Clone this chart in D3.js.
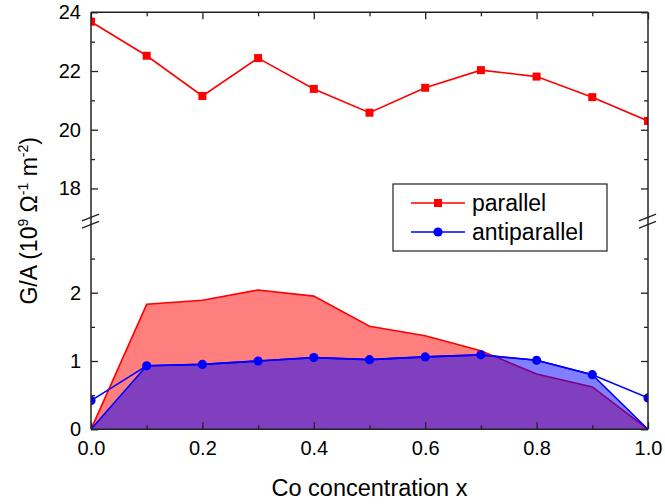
<!DOCTYPE html>
<html>
<head>
<meta charset="utf-8">
<script src="https://cdn.jsdelivr.net/npm/d3@7"></script>
<style>
  html, body { margin: 0; padding: 0; background: #fff; }
  svg { display: block; font-family: Arial, "Liberation Sans", Helvetica, sans-serif; }
</style>
</head>
<body>
<svg id="chart" width="665" height="504"></svg>
<script>
// ---- data ----
const xValues = [0.0, 0.1, 0.2, 0.3, 0.4, 0.5, 0.6, 0.7, 0.8, 0.9, 1.0];
const parallelHigh = [23.68, 22.52, 21.15, 22.44, 21.39, 20.58, 21.43, 22.03, 21.81, 21.11, 20.30];
const parallelLow = [0, 1.83, 1.89, 2.04, 1.95, 1.51, 1.37, 1.15, 0.81, 0.62, 0];
const antiparallel = [0.42, 0.93, 0.95, 1.00, 1.05, 1.02, 1.06, 1.09, 1.01, 0.80, 0.46];
const antiparallelArea = [0, 0.93, 0.95, 1.00, 1.05, 1.02, 1.06, 1.09, 1.01, 0.80, 0];
const xTicks = [0, 0.2, 0.4, 0.6, 0.8, 1.0];
const xMinorTicks = [0.1, 0.3, 0.5, 0.7, 0.9];
const yUpperTicks = [18, 20, 22, 24];
const yUpperMinor = [19, 21, 23];
const yLowerTicks = [0, 1, 2];
const yLowerMinor = [0.5, 1.5, 2.5];
const legendLabels = ["parallel", "antiparallel"];
const xTitle = "Co concentration x";

// ---- layout ----
const L = 91, R = 648, T = 12.3, B = 429.3;
const svg = d3.select("#chart");
const axisColor = "#222";

const x = d3.scaleLinear().domain([0, 1]).range([L, R]);
const yU = d3.scaleLinear().domain([17, 24]).range([217.8, T]);
const yL = d3.scaleLinear().domain([0, 3]).range([B, 224.4]);

// clip
svg.append("clipPath").attr("id", "clipU").append("rect")
  .attr("x", L).attr("y", T).attr("width", R - L).attr("height", yU(17) - T);
svg.append("clipPath").attr("id", "clipL").append("rect")
  .attr("x", L).attr("y", yL(3)).attr("width", R - L).attr("height", B - yL(3));

const idx = d3.range(xValues.length);

// lower panel
const gL = svg.append("g").attr("clip-path", "url(#clipL)");
gL.append("path").datum(idx)
  .attr("d", d3.area().x(i => x(xValues[i])).y0(yL(0)).y1(i => yL(parallelLow[i])))
  .attr("fill", "rgba(255,0,0,0.5)");
gL.append("path").datum(idx)
  .attr("d", d3.line().x(i => x(xValues[i])).y(i => yL(parallelLow[i])))
  .attr("fill", "none").attr("stroke", "#ff0000").attr("stroke-width", 1.6);

gL.append("path").datum(idx)
  .attr("d", d3.area().x(i => x(xValues[i])).y0(yL(0)).y1(i => yL(antiparallelArea[i])))
  .attr("fill", "rgba(0,0,255,0.5)");
gL.append("path").datum(idx)
  .attr("d", d3.line().x(i => x(xValues[i])).y(i => yL(antiparallelArea[i])))
  .attr("fill", "none").attr("stroke", "#0000ff").attr("stroke-width", 1.6);
gL.append("path").datum(idx)
  .attr("d", d3.line().x(i => x(xValues[i])).y(i => yL(antiparallel[i])))
  .attr("fill", "none").attr("stroke", "#0000ff").attr("stroke-width", 1.6);
gL.selectAll("circle.ap").data(idx).join("circle").attr("class", "ap")
  .attr("cx", i => x(xValues[i])).attr("cy", i => yL(antiparallel[i]))
  .attr("r", 4.6).attr("fill", "#0000ff");

// upper panel
const gU = svg.append("g").attr("clip-path", "url(#clipU)");
gU.append("path").datum(idx)
  .attr("d", d3.line().x(i => x(xValues[i])).y(i => yU(parallelHigh[i])))
  .attr("fill", "none").attr("stroke", "#ff0000").attr("stroke-width", 1.6);
gU.selectAll("rect.p").data(idx).join("rect").attr("class", "p")
  .attr("x", i => x(xValues[i]) - 4).attr("y", i => yU(parallelHigh[i]) - 4)
  .attr("width", 8).attr("height", 8).attr("fill", "#ff0000");

// ---- axes ----
function styleAxis(g) {
  g.select(".domain").remove();
  g.selectAll(".tick line").attr("stroke", axisColor).attr("stroke-width", 1.3);
  g.selectAll(".tick text").attr("fill", "#000").style("font-size", "20px");
}
const f1 = d3.format(".1f");
svg.append("g").attr("transform", `translate(0,${B})`)
  .call(d3.axisBottom(x).tickValues(xTicks).tickSize(-7).tickPadding(12).tickFormat(f1)).call(styleAxis);
svg.append("g").attr("transform", `translate(0,${B})`)
  .call(d3.axisBottom(x).tickValues(xMinorTicks).tickSize(-4).tickFormat("")).call(styleAxis);
svg.append("g").attr("transform", `translate(0,${T})`)
  .call(d3.axisTop(x).tickValues(xTicks).tickSize(-7).tickFormat("")).call(styleAxis);
svg.append("g").attr("transform", `translate(0,${T})`)
  .call(d3.axisTop(x).tickValues(xMinorTicks).tickSize(-4).tickFormat("")).call(styleAxis);
svg.append("g").attr("transform", `translate(${L},0)`)
  .call(d3.axisLeft(yU).tickValues(yUpperTicks).tickSize(-7).tickPadding(10).tickFormat(d3.format("d"))).call(styleAxis);
svg.append("g").attr("transform", `translate(${L},0)`)
  .call(d3.axisLeft(yU).tickValues(yUpperMinor).tickSize(-4).tickFormat("")).call(styleAxis);
svg.append("g").attr("transform", `translate(${L},0)`)
  .call(d3.axisLeft(yL).tickValues(yLowerTicks).tickSize(-7).tickPadding(10).tickFormat(d3.format("d"))).call(styleAxis);
svg.append("g").attr("transform", `translate(${L},0)`)
  .call(d3.axisLeft(yL).tickValues(yLowerMinor).tickSize(-4).tickFormat("")).call(styleAxis);
svg.append("g").attr("transform", `translate(${R},0)`)
  .call(d3.axisRight(yU).tickValues(yUpperTicks).tickSize(-7).tickFormat("")).call(styleAxis);
svg.append("g").attr("transform", `translate(${R},0)`)
  .call(d3.axisRight(yU).tickValues(yUpperMinor).tickSize(-4).tickFormat("")).call(styleAxis);
svg.append("g").attr("transform", `translate(${R},0)`)
  .call(d3.axisRight(yL).tickValues(yLowerTicks).tickSize(-7).tickFormat("")).call(styleAxis);
svg.append("g").attr("transform", `translate(${R},0)`)
  .call(d3.axisRight(yL).tickValues(yLowerMinor).tickSize(-4).tickFormat("")).call(styleAxis);

// frame
const frame = svg.append("g").attr("stroke", axisColor).attr("stroke-width", 1.5).attr("fill", "none");
frame.append("line").attr("x1", L).attr("x2", R).attr("y1", T).attr("y2", T);
frame.append("line").attr("x1", L).attr("x2", R).attr("y1", B).attr("y2", B);
frame.append("line").attr("x1", L).attr("x2", L).attr("y1", T).attr("y2", B);
frame.append("line").attr("x1", R).attr("x2", R).attr("y1", T).attr("y2", B);

// break marks
const yb = (yU(17) + yL(3)) / 2;
[L, R].forEach(ax => {
  [-3.6, 3.6].forEach(off => {
    frame.append("line")
      .attr("x1", ax - 9).attr("y1", yb + off + 3.4)
      .attr("x2", ax + 8).attr("y2", yb + off - 3.4)
      .attr("stroke-width", 1.3);
  });
});

// ---- titles ----
svg.append("text").attr("x", (L + R) / 2).attr("y", 496)
  .attr("text-anchor", "middle").style("font-size", "23.5px").text(xTitle);

const yt = svg.append("text")
  .attr("transform", `translate(37,${(T + B) / 2}) rotate(-90)`)
  .attr("text-anchor", "middle").style("font-size", "23px");
yt.append("tspan").text("G/A (10");
yt.append("tspan").attr("dy", -9).style("font-size", "14px").text("9");
yt.append("tspan").attr("dy", 9).text("\u00A0\u03A9");
yt.append("tspan").attr("dy", -9).style("font-size", "14px").text("-1");
yt.append("tspan").attr("dy", 9).text("\u00A0m");
yt.append("tspan").attr("dy", -9).style("font-size", "14px").text("-2");
yt.append("tspan").attr("dy", 9).text(")");

// ---- legend ----
const lg = svg.append("g");
lg.append("rect").attr("x", 393).attr("y", 184).attr("width", 214).attr("height", 67)
  .attr("fill", "#fff").attr("stroke", axisColor).attr("stroke-width", 1.2);
const legendColors = ["#ff0000", "#0000ff"];
legendLabels.forEach((lab, i) => {
  const yy = 203 + i * 29;
  lg.append("line").attr("x1", 411).attr("x2", 465).attr("y1", yy).attr("y2", yy)
    .attr("stroke", legendColors[i]).attr("stroke-width", 1.6);
  if (i === 0) {
    lg.append("rect").attr("x", 434).attr("y", yy - 4).attr("width", 8).attr("height", 8).attr("fill", legendColors[i]);
  } else {
    lg.append("circle").attr("cx", 438).attr("cy", yy).attr("r", 4.6).attr("fill", legendColors[i]);
  }
  lg.append("text").attr("x", 472).attr("y", yy + 8).style("font-size", "23px").text(lab);
});
</script>
</body>
</html>
